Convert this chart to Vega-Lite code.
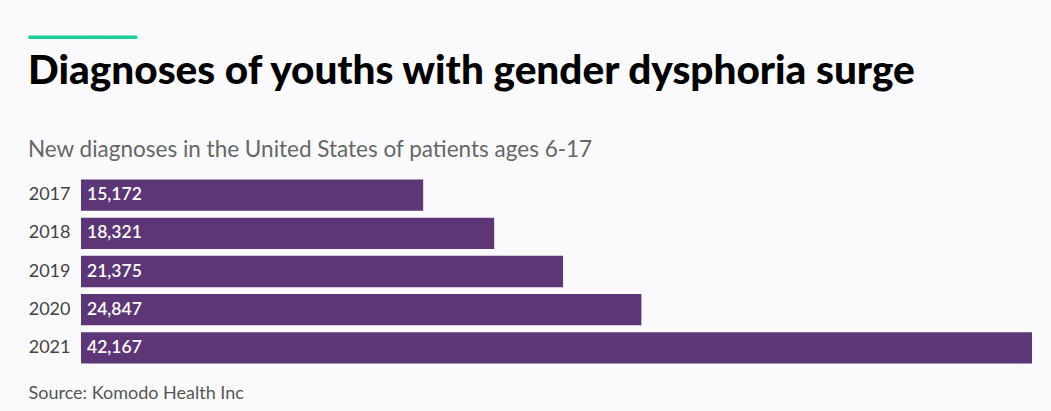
{
  "$schema": "https://vega.github.io/schema/vega-lite/v6.json",
  "autosize": "none",
  "width": 951,
  "height": 191,
  "padding": {"left": 81, "top": 176, "right": 19, "bottom": 44},
  "background": "#fafafc",
  "view": {"stroke": null},
  "data": {"values": [
    {"year": "2017", "diagnoses": 15172},
    {"year": "2018", "diagnoses": 18321},
    {"year": "2019", "diagnoses": 21375},
    {"year": "2020", "diagnoses": 24847},
    {"year": "2021", "diagnoses": 42167}
  ]},
  "title": {
    "text": "Diagnoses of youths with gender dysphoria surge",
    "subtitle": "New diagnoses in the United States of patients ages 6-17",
    "anchor": "start",
    "dy": 150,
    "font": "Lato",
    "fontSize": 40.5,
    "fontWeight": 900,
    "color": "#000000",
    "subtitleFont": "Lato",
    "subtitleFontSize": 22.5,
    "subtitleColor": "#666666",
    "subtitlePadding": 46,
    "offset": 16
  },
  "encoding": {
    "y": {
      "field": "year", "type": "ordinal",
      "scale": {"paddingInner": 0.18, "paddingOuter": 0.09},
      "axis": {
        "title": "━━━━━━━━━",
        "titleFont": "DejaVu Sans",
        "titleFontSize": 20,
        "titleFontWeight": "normal",
        "titleColor": "#1dcc96",
        "titleAngle": 0,
        "titleAlign": "left",
        "titleBaseline": "middle",
        "titleX": -53,
        "titleY": -139,
        "domain": false, "ticks": false,
        "labelFont": "Lato", "labelFontSize": 18, "labelColor": "#444444",
        "labelPadding": 11
      }
    }
  },
  "layer": [
    {
      "mark": {"type": "bar", "color": "#5c3676"},
      "encoding": {
        "x": {
          "field": "diagnoses", "type": "quantitative",
          "scale": {"domain": [0, 42167], "nice": false},
          "axis": {
            "title": "Source: Komodo Health Inc",
            "titleFont": "Lato", "titleFontSize": 18, "titleFontWeight": "normal",
            "titleColor": "#555555",
            "titleAnchor": "start", "titleAlign": "left",
            "titleBaseline": "alphabetic",
            "titleX": -53, "titleY": 31,
            "labels": false, "ticks": false, "domain": false, "grid": false
          }
        }
      }
    },
    {
      "mark": {"type": "text", "align": "left", "baseline": "middle", "dx": 6, "color": "#ffffff", "font": "Lato", "fontSize": 17.5, "fontWeight": 600},
      "encoding": {
        "x": {"datum": 0, "type": "quantitative"},
        "text": {"field": "diagnoses", "type": "quantitative", "format": ","}
      }
    }
  ]
}
